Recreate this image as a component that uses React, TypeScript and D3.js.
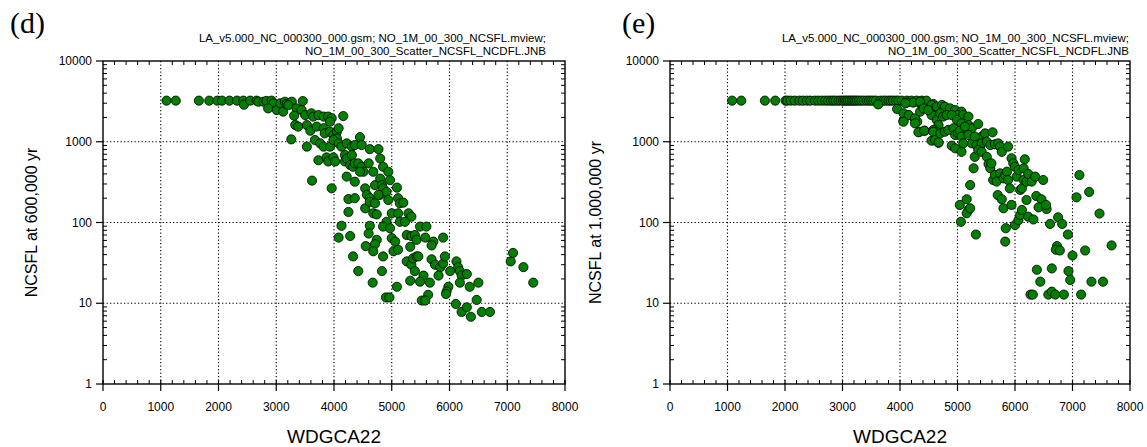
import React from 'react';
import * as d3 from 'd3';

// ---------- data ----------
const xTickValues = [0, 1000, 2000, 3000, 4000, 5000, 6000, 7000, 8000];
const yTickValues = [1, 10, 100, 1000, 10000];
const xLabel = 'WDGCA22';
const subtitleLine1 = 'LA_v5.000_NC_000300_000.gsm; NO_1M_00_300_NCSFL.mview;';
const subtitleLine2 = 'NO_1M_00_300_Scatter_NCSFL_NCDFL.JNB';
const panelLabels = ['(d)', '(e)'];
const yTitles = ['NCSFL at 600,000 yr', 'NCSFL at 1,000,000 yr'];

// panel (d): [WDGCA22, NCSFL at 600,000 yr]
const pointsD: [number, number][] = [
  [1100, 3230], [1260, 3230], [1660, 3230], [1840, 3230], [1980, 3230], [2060, 3230], [2190, 3230],
  [2320, 3230], [2430, 3230], [2440, 2880], [2550, 3230], [2660, 3230], [2690, 3130], [2780, 3130],
  [2830, 3200], [2920, 3230], [2950, 2990], [2860, 2590], [3010, 2470], [3070, 2990], [3150, 3130],
  [3120, 2360], [3180, 2930], [3240, 3050], [3270, 3130], [3210, 2850], [3350, 2590], [3440, 2470],
  [3460, 3190], [3310, 2100], [3330, 1610], [3380, 1540], [3260, 1070],
  [3500, 2140], [3610, 2250], [3640, 2050], [3730, 2140], [3820, 2050], [3900, 2050], [3960, 1950],
  [3930, 1770], [4160, 2080], [3530, 1610], [3590, 1370], [3700, 1540], [3820, 1470], [3840, 1270],
  [3930, 1330], [3990, 1210], [4050, 1330], [4050, 1100], [4080, 1470], [3530, 870], [3670, 1050],
  [3760, 955], [3820, 870], [3930, 870], [3990, 1050], [4080, 955], [4130, 870], [4220, 955],
  [4310, 870], [4360, 910], [4450, 1140], [4480, 910], [4620, 810], [4770, 810], [3730, 590],
  [3870, 640], [3900, 570], [3990, 640], [4020, 570], [4190, 685], [4190, 570], [4220, 620],
  [4280, 515], [4330, 490], [4310, 685], [4360, 540], [4420, 540], [4480, 490], [4510, 425],
  [4450, 425], [4600, 540], [4680, 425], [4800, 620], [4850, 490], [4940, 425], [4970, 335],
  [4220, 370], [4360, 320], [4540, 265], [4570, 220], [4620, 200], [4710, 290], [4800, 350],
  [4830, 290], [4800, 220], [4850, 265], [4910, 240], [5090, 270], [3620, 330], [3960, 265],
  [4250, 195], [4360, 200], [4540, 150], [4250, 135], [4620, 180], [4710, 173], [4770, 220],
  [4940, 190], [5110, 200], [5140, 173], [5200, 176], [5000, 130], [5110, 130], [4680, 130],
  [4740, 126], [5290, 130], [5340, 118], [5140, 102], [5230, 102], [4910, 102], [4620, 91],
  [4850, 89], [4970, 85], [4130, 91], [4080, 65], [4280, 68], [4600, 73], [4740, 61], [4710, 54],
  [4550, 51], [4680, 44], [5000, 64], [5060, 58], [5260, 70], [5340, 68], [5400, 70], [5430, 61],
  [5490, 89], [5600, 89], [5580, 65], [5320, 50], [5720, 58], [5690, 52], [5890, 65], [5030, 44],
  [5110, 46], [4850, 38], [4330, 38], [4420, 25], [4670, 18], [4830, 25], [5090, 16], [5260, 33],
  [5340, 30], [5370, 36], [5430, 38], [5400, 25], [5460, 38], [5550, 22], [5320, 19], [5490, 18.5],
  [5660, 18], [5690, 35], [5750, 30], [5840, 28], [5890, 31], [5920, 38], [5810, 22], [6010, 25],
  [6120, 33], [6150, 28], [6180, 25], [6210, 22], [6300, 23], [6180, 18], [6350, 16], [6500, 18],
  [5980, 16], [5950, 14], [5940, 13], [5630, 12.7], [5520, 10.8], [5580, 10.8], [4900, 11.8],
  [4960, 11.8], [6110, 9.8], [6210, 7.8], [6300, 8.9], [6370, 6.8], [6470, 11], [6560, 7.8],
  [6700, 7.8], [7060, 33], [7100, 42], [7280, 28], [7450, 18],
];

// panel (e): [WDGCA22, NCSFL at 1,000,000 yr]
const pointsE: [number, number][] = [
  [1080, 3230], [1240, 3230], [1650, 3230], [1830, 3230], [2010, 3230], [2040, 3230], [2100, 3230],
  [2170, 3230], [2250, 3230], [2310, 3230], [2380, 3230], [2440, 3230], [2520, 3230], [2580, 3230],
  [2640, 3230], [2700, 3230], [2750, 3230], [2800, 3230], [2840, 3230], [2880, 3230], [2930, 3230],
  [2970, 3230], [3010, 3230], [3040, 3230], [3070, 3230], [3100, 3230], [3130, 3230], [3160, 3230],
  [3190, 3230], [3220, 3230], [3250, 3230], [3290, 3230], [3330, 3230], [3370, 3230], [3420, 3230],
  [3460, 3230], [3500, 3230], [3540, 3230], [3580, 3230], [3660, 3230], [3710, 3230], [3750, 3230],
  [3800, 3230], [3840, 3230], [3880, 3230], [3930, 3230], [3970, 3230], [4030, 3230], [4120, 3230],
  [4200, 3230], [4290, 3230], [4380, 3230], [4460, 3230],
  [3620, 2900], [3950, 2540], [4120, 3050], [4230, 3050], [4350, 2990], [4580, 2930], [4610, 2590],
  [4520, 2400], [4550, 2140], [4640, 1860], [4670, 1610], [4060, 1820], [4140, 2140], [4260, 1910],
  [4300, 1770], [4340, 1330], [4430, 1370], [4580, 1400], [4640, 1330], [4550, 1030], [4670, 970],
  [4090, 2990], [4350, 3130], [4550, 2850], [4640, 2720], [4730, 2850], [4780, 2720], [4870, 2590],
  [4960, 2470], [5070, 2360], [5010, 2140], [5100, 2140], [5190, 2050], [4060, 2250], [4150, 2140],
  [4260, 1950], [4260, 1690], [4350, 2360], [4410, 2590], [4490, 2470], [4700, 2250], [4750, 2050],
  [4810, 2140], [4900, 2140], [4990, 1860], [5070, 1690], [5190, 1610], [5250, 1470], [5360, 1660],
  [5420, 1160], [5480, 1270], [5610, 1310], [4060, 1770], [4320, 1310], [4420, 1370], [4580, 1330],
  [4610, 1050], [4670, 985], [4700, 1270], [4780, 1330], [4840, 1400], [4930, 1470], [4960, 1210],
  [5010, 1270], [5040, 1370], [5070, 1160], [5130, 1540], [5190, 1210], [5250, 955], [5300, 1160],
  [5330, 910], [5390, 830], [5420, 955], [5510, 1000], [5570, 910], [5650, 930], [5710, 955],
  [5740, 870], [5770, 750], [5880, 870], [4900, 895], [4960, 830], [5070, 750], [5100, 955],
  [5300, 650], [5360, 790], [5420, 750], [5510, 650], [5540, 530], [5570, 470], [5590, 540],
  [5620, 336], [5650, 387], [5680, 321], [5740, 406], [5800, 352], [5830, 387], [5860, 426],
  [5880, 336], [5910, 265], [5940, 624], [5970, 540], [6000, 490], [6030, 370], [6060, 447],
  [6090, 253], [6120, 265], [6150, 336], [6170, 606], [6150, 469], [6200, 321], [6230, 399],
  [6290, 321], [6350, 370], [6490, 336], [5280, 469], [5220, 291], [5040, 165], [5160, 194],
  [5190, 143], [5160, 130], [5220, 150], [5060, 102], [5320, 71], [5700, 219], [5770, 194],
  [5800, 150], [5940, 165], [6000, 93], [6060, 107], [6090, 124], [6120, 143], [6200, 190],
  [6230, 118], [6320, 109], [6370, 213], [6460, 194], [6410, 154], [6550, 147], [6540, 165],
  [6610, 96], [6750, 116], [6820, 96], [6920, 71], [6730, 51], [6710, 46], [6780, 45], [5840, 85],
  [5830, 58], [7000, 39], [7220, 45], [6380, 26], [6440, 18.5], [6640, 27], [6930, 25], [6960, 19.4],
  [6270, 12.8], [6310, 12.8], [6580, 12.8], [6640, 13.9], [6700, 12.8], [6850, 12.8], [7150, 12.8],
  [7330, 18.5], [7530, 18.5], [7120, 387], [7070, 205], [7290, 239], [7470, 129], [7680, 52],
];

const allPoints = [pointsD, pointsE];

// ---------- layout ----------
const W = 1147;
const H = 447;
const FONT = "'Liberation Sans', Arial, Helvetica, sans-serif";
const SERIF = "'Liberation Serif', 'Times New Roman', serif";

const layouts = [
  { left: 103, right: 565, top: 61, bottom: 384, subEnd: 546, tagX: 10, titleX: 37 },
  { left: 670, right: 1130, top: 61, bottom: 384, subEnd: 1129, tagX: 622, titleX: 601 },
];

function Panel({ idx }: { idx: number }) {
  const L = layouts[idx];
  const x = d3.scaleLinear().domain([0, 8000]).range([L.left, L.right]);
  const y = d3.scaleLog().domain([1, 10000]).range([L.bottom, L.top]);
  const minorX = d3.range(0, 8001, 200).filter((v) => v % 1000 !== 0);
  const minorY: number[] = [];
  [1, 10, 100, 1000].forEach((d) => {
    for (let k = 2; k <= 9; k++) minorY.push(d * k);
  });
  const gridX = xTickValues.filter((v) => v > 0 && v < 8000);
  const gridY = yTickValues.filter((v) => v > 1 && v < 10000);
  const pts = allPoints[idx];
  const dash = '1.3,2.2';
  return (
    <g>
      {gridX.map((v) => (
        <line key={'gx' + v} x1={x(v)} x2={x(v)} y1={L.top} y2={L.bottom} stroke="#000" strokeWidth={1.1} strokeDasharray={dash} />
      ))}
      {gridY.map((v) => (
        <line key={'gy' + v} x1={L.left} x2={L.right} y1={y(v)} y2={y(v)} stroke="#000" strokeWidth={1.1} strokeDasharray={dash} />
      ))}
      {minorX.map((v) => (
        <g key={'mx' + v}>
          <line x1={x(v)} x2={x(v)} y1={L.bottom} y2={L.bottom - 4} stroke="#000" strokeWidth={1} />
          <line x1={x(v)} x2={x(v)} y1={L.top} y2={L.top + 4} stroke="#000" strokeWidth={1} />
        </g>
      ))}
      {minorY.map((v) => (
        <g key={'my' + v}>
          <line x1={L.left} x2={L.left + 4} y1={y(v)} y2={y(v)} stroke="#000" strokeWidth={1} />
          <line x1={L.right} x2={L.right - 4} y1={y(v)} y2={y(v)} stroke="#000" strokeWidth={1} />
        </g>
      ))}
      {xTickValues.map((v) => (
        <line key={'Mx' + v} x1={x(v)} x2={x(v)} y1={L.bottom - 4} y2={L.bottom + 7} stroke="#000" strokeWidth={1.2} />
      ))}
      {yTickValues.map((v) => (
        <line key={'My' + v} x1={L.left - 7} x2={L.left} y1={y(v)} y2={y(v)} stroke="#000" strokeWidth={1.2} />
      ))}
      {pts.map((p, i) => (
        <circle key={'p' + i} cx={x(p[0])} cy={y(p[1])} r={4.6} fill="#007f00" stroke="#000" strokeWidth={0.8} />
      ))}
      <rect x={L.left} y={L.top} width={L.right - L.left} height={L.bottom - L.top} fill="none" stroke="#000" strokeWidth={1.4} />
      {xTickValues.map((v) => (
        <text key={'tx' + v} x={x(v)} y={L.bottom + 27} textAnchor="middle" fontFamily={FONT} fontSize={12} fill="#000">
          {v}
        </text>
      ))}
      {yTickValues.map((v) => (
        <text key={'ty' + v} x={L.left - 11} y={y(v) + 4.2} textAnchor="end" fontFamily={FONT} fontSize={12} fill="#000">
          {v}
        </text>
      ))}
      <text x={(L.left + L.right) / 2} y={443} textAnchor="middle" fontFamily={FONT} fontSize={19} fill="#000">
        {xLabel}
      </text>
      <text
        transform={`translate(${L.titleX},${(L.top + L.bottom) / 2}) rotate(-90)`}
        textAnchor="middle"
        fontFamily={FONT}
        fontSize={16}
        fill="#000"
      >
        {yTitles[idx]}
      </text>
      <text x={L.subEnd} y={42} textAnchor="end" fontFamily={FONT} fontSize={11.5} fill="#000">
        {subtitleLine1}
      </text>
      <text x={L.subEnd} y={55} textAnchor="end" fontFamily={FONT} fontSize={11.5} fill="#000">
        {subtitleLine2}
      </text>
      <text x={L.tagX} y={33} fontFamily={SERIF} fontSize={30} fill="#000">
        {panelLabels[idx]}
      </text>
    </g>
  );
}

export default function App() {
  return (
    <svg width={W} height={H} style={{ position: 'absolute', left: 0, top: 0, background: '#fff' }}>
      <rect x={0} y={0} width={W} height={H} fill="#fff" />
      <Panel idx={0} />
      <Panel idx={1} />
    </svg>
  );
}
